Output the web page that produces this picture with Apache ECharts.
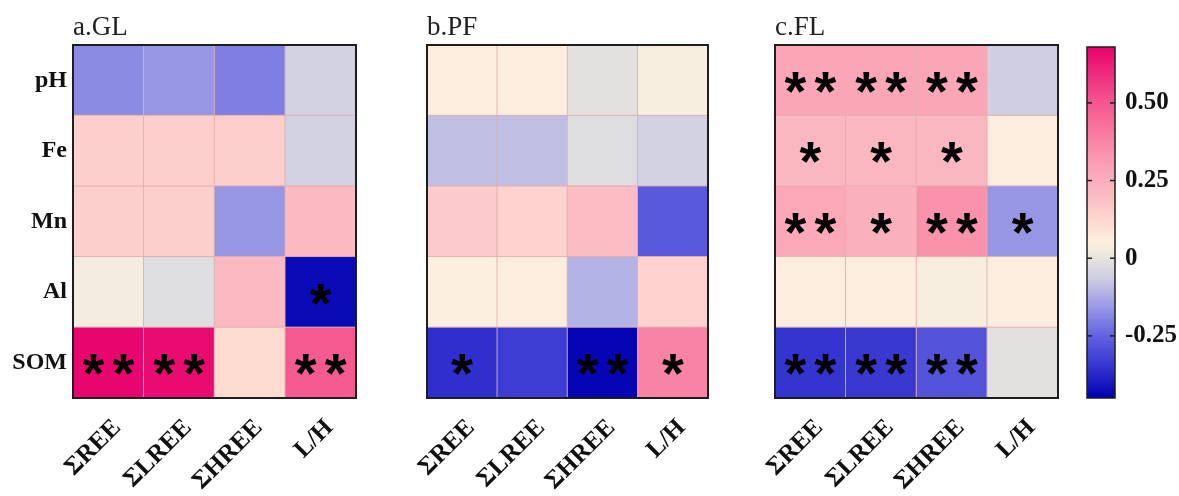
<!DOCTYPE html>
<html><head><meta charset="utf-8">
<script src="https://cdn.jsdelivr.net/npm/echarts@6/dist/echarts.min.js"></script>
<style>html,body{margin:0;padding:0;background:#fff}#c{width:1179px;height:496px}</style>
</head><body><div id="c"></div>
<script>
// ---- data ----
const variables = ['ΣREE', 'ΣLREE', 'ΣHREE', 'L/H'];
const factors = ['pH', 'Fe', 'Mn', 'Al', 'SOM'];
const panelTitles = ['a.GL', 'b.PF', 'c.FL'];

// rows = factors (pH, Fe, Mn, Al, SOM), cols = variables
const valuesGL = [
  [-0.18, -0.16, -0.20, -0.05],
  [0.15, 0.15, 0.15, -0.05],
  [0.15, 0.15, -0.16, 0.21],
  [0.03, -0.02, 0.21, -0.43],
  [0.67, 0.66, 0.11, 0.49]
];
const valuesPF = [
  [0.06, 0.06, -0.01, 0.04],
  [-0.09, -0.09, -0.02, -0.05],
  [0.16, 0.14, 0.20, -0.27],
  [0.05, 0.06, -0.11, 0.14],
  [-0.36, -0.33, -0.44, 0.38]
];
const valuesFL = [
  [0.28, 0.28, 0.28, -0.06],
  [0.22, 0.22, 0.22, 0.06],
  [0.27, 0.24, 0.34, -0.16],
  [0.06, 0.06, 0.04, 0.06],
  [-0.35, -0.34, -0.28, -0.01]
];
const starsGL = [
  ['', '', '', ''],
  ['', '', '', ''],
  ['', '', '', ''],
  ['', '', '', '*'],
  ['**', '**', '', '**']
];
const starsPF = [
  ['', '', '', ''],
  ['', '', '', ''],
  ['', '', '', ''],
  ['', '', '', ''],
  ['*', '', '**', '*']
];
const starsFL = [
  ['**', '**', '**', ''],
  ['*', '*', '*', ''],
  ['**', '*', '**', '*'],
  ['', '', '', ''],
  ['**', '**', '**', '']
];
const colorbarTicks = [-0.25, 0, 0.25, 0.5];
const scaleMin = -0.45, scaleMax = 0.68;

// ---- colour scale ----
const anchors = [
  [-0.45, '#0000b0'], [-0.35, '#3434d0'], [-0.25, '#6262e0'], [-0.15, '#9c9ce6'],
  [-0.07, '#cbcbe4'], [0.0, '#e6e4de'], [0.05, '#fdf1e0'], [0.12, '#fdd8d0'],
  [0.20, '#fbbcc4'], [0.30, '#fba0b4'], [0.40, '#f97ca0'], [0.50, '#f55690'],
  [0.60, '#ee2a7c'], [0.68, '#e8006c']
];
function hex(c){return [1,3,5].map(i=>parseInt(c.substr(i,2),16));}
function colorAt(v){
  for(let i=0;i<anchors.length-1;i++){
    const [a,ca]=anchors[i],[b,cb]=anchors[i+1];
    if(v<=b+1e-9){const t=Math.max(0,(v-a)/(b-a));const A=hex(ca),B=hex(cb);
      return 'rgb('+A.map((x,k)=>Math.round(x+(B[k]-x)*t)).join(',')+')';}
  }
  return anchors[anchors.length-1][1];
}
const nStops = 57, scaleColors = [];
for(let i=0;i<nStops;i++) scaleColors.push(colorAt(scaleMin+(scaleMax-scaleMin)*i/(nStops-1)));

const panels = [
  {vals: valuesGL, stars: starsGL, left: 73, width: 283},
  {vals: valuesPF, stars: starsPF, left: 427, width: 281},
  {vals: valuesFL, stars: starsFL, left: 775, width: 283}
];
const gTop = 45, gHeight = 353;
const serif = "'Liberation Serif', 'Times New Roman', serif";

const grids = [], xAxes = [], yAxes = [], series = [], titles = [];
panels.forEach((p, i) => {
  grids.push({left: p.left, top: gTop, width: p.width, height: gHeight, show: true, outerBoundsMode: 'none',
    containLabel: false, backgroundColor: 'transparent', borderColor: '#1e1e1e', borderWidth: 2, z: 10});
  xAxes.push({type: 'category', gridIndex: i, data: variables,
    axisLine: {show: false}, axisTick: {show: false}, splitLine: {show: false},
    axisLabel: {rotate: 45, margin: 17, verticalAlign: 'top', fontSize: 25, fontWeight: 'bold', fontFamily: serif, color: '#111', interval: 0}});
  yAxes.push({type: 'category', gridIndex: i, data: factors, inverse: true,
    axisLine: {show: false}, axisTick: {show: false}, splitLine: {show: false},
    axisLabel: {show: i === 0, margin: 6, fontSize: 24, fontWeight: 'bold', fontFamily: serif, color: '#111'}});
  const data = [];
  p.vals.forEach((row, r) => row.forEach((v, c) => data.push([c, r, v])));
  const st = p.stars;
  series.push({type: 'heatmap', xAxisIndex: i, yAxisIndex: i, data: data,
    itemStyle: {borderColor: 'rgba(225,175,175,0.9)', borderWidth: 1},
    emphasis: {disabled: true},
    label: {show: true,
      formatter: (pr) => st[pr.data[1]][pr.data[0]].split('').map(() => '{s|*}').join(''),
      rich: {s: {fontSize: 56, fontWeight: 'bold', fontFamily: "'Liberation Sans', Arial, sans-serif",
        color: '#000', padding: [0, 4]}},
      offset: [0, 14]}});
  titles.push({text: panelTitles[i], left: p.left, top: 14, padding: 0,
    textStyle: {fontFamily: serif, fontWeight: 'normal', fontSize: 27, color: '#222'}});
});

// colour bar: frame, gradient (custom series) and ticks
grids.push({left: 1087, top: 47, width: 28, height: 351, show: true, outerBoundsMode: 'none',
  containLabel: false, backgroundColor: 'transparent', borderColor: '#1e1e1e', borderWidth: 1.5, z: 10});
xAxes.push({type: 'value', gridIndex: 3, show: false, min: 0, max: 1});
const tickFmt = v => (Math.abs(v) < 1e-9 ? '0' : v.toFixed(2));
yAxes.push({type: 'value', gridIndex: 3, min: scaleMin, max: scaleMax, position: 'right',
  axisLine: {show: false}, splitLine: {show: false}, axisTick: {show: false},
  axisLabel: {customValues: colorbarTicks, formatter: tickFmt, margin: 10, fontSize: 25,
    fontWeight: 'bold', fontFamily: serif, color: '#111'}, z: 20});

const gradStops = scaleColors.map((c, k) => ({offset: 1 - k / (scaleColors.length - 1), color: c})).reverse();
series.push({type: 'custom', xAxisIndex: 3, yAxisIndex: 3, data: [[0, scaleMin, 1, scaleMax]], silent: true, z: 1,
  renderItem: (params, api) => {
    const p0 = api.coord([api.value(0), api.value(3)]);
    const p1 = api.coord([api.value(2), api.value(1)]);
    return {type: 'rect', shape: {x: p0[0], y: p0[1], width: p1[0] - p0[0], height: p1[1] - p0[1]},
      style: {fill: new echarts.graphic.LinearGradient(0, 0, 0, 1, gradStops)}};
  }});
// colour bar tick marks on both inner edges
series.push({type: 'custom', xAxisIndex: 3, yAxisIndex: 3, data: colorbarTicks.map(v => [v]), silent: true, z: 15,
  renderItem: (params, api) => {
    const l = api.coord([0, api.value(0)]);
    const r = api.coord([1, api.value(0)]);
    const st = {stroke: '#1e1e1e', lineWidth: 1.5};
    return {type: 'group', children: [
      {type: 'line', shape: {x1: l[0], y1: l[1], x2: l[0] + 5, y2: l[1]}, style: st},
      {type: 'line', shape: {x1: r[0] - 5, y1: r[1], x2: r[0], y2: r[1]}, style: st}
    ]};
  }});

const chart = echarts.init(document.getElementById('c'), null, {renderer: 'canvas'});
chart.setOption({
  animation: false,
  backgroundColor: '#fff',
  title: titles,
  grid: grids, xAxis: xAxes, yAxis: yAxes, series: series,
  visualMap: {type: 'continuous', show: false, min: scaleMin, max: scaleMax, seriesIndex: [0, 1, 2],
    inRange: {color: scaleColors}}
});
</script></body></html>
